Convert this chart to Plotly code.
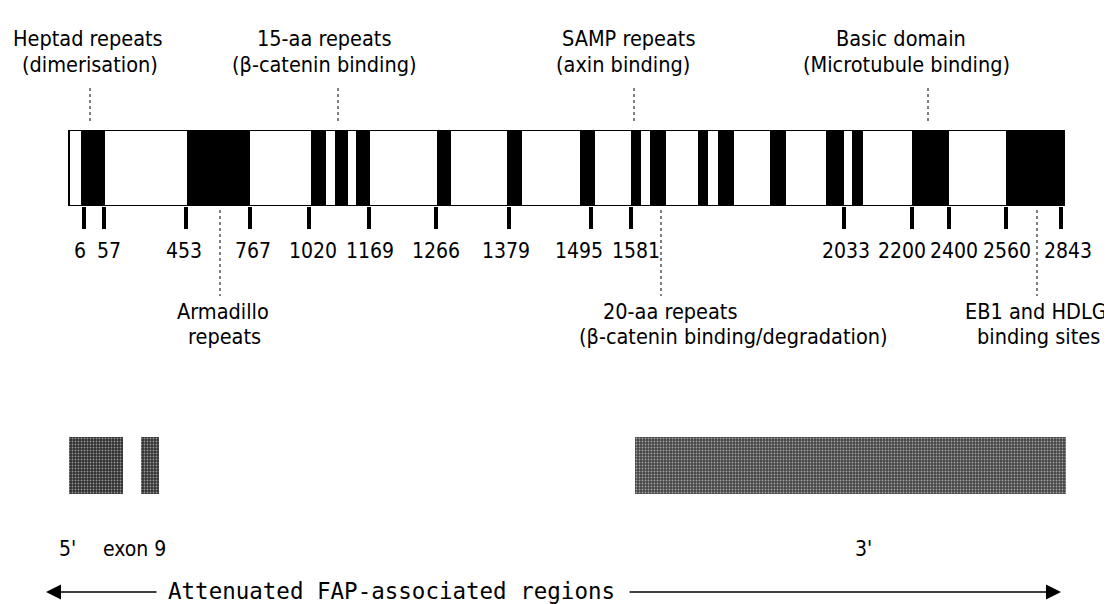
import plotly.graph_objects as go

# ---------------- data (schematic x units) ----------------
tick_pos = [76, 96, 178, 242, 301, 361, 428, 501, 583, 623, 836, 904, 941, 998, 1053]
tick_labels = ["6", "57", "453", "767", "1020", "1169", "1266", "1379", "1495", "1581",
               "2033", "2200", "2400", "2560", "2843"]
tick_label_pos = [72, 101, 176, 245, 305, 362, 428, 498, 571, 628, 838, 894, 946, 999, 1060]

protein_start = [61]
protein_end = [1056]

block_start = [73, 179, 303, 327, 348, 429, 499, 572, 623, 642, 690, 710, 762, 818, 844, 904, 998]
block_end = [97, 242, 318, 340, 362, 443, 514, 587, 633, 658, 700, 726, 778, 836, 855, 941, 1056]

upper_feature_x = [82, 330, 626, 920]
upper_line1 = ["Heptad repeats", "15-aa repeats", "SAMP repeats", "Basic domain"]
upper_line2 = ["(dimerisation)", "(\u03b2-catenin binding)", "(axin binding)", "(Microtubule binding)"]
upper_line1_x = [80, 316, 620, 893]
upper_line2_x = [82, 316, 615, 898]

lower_feature_x = [212, 653, 1029]
lower_line1 = ["Armadillo", "20-aa repeats", "EB1 and HDLG"]
lower_line2 = ["repeats", "(\u03b2-catenin binding/degradation)", "binding sites"]
lower_line1_x = [215, 662, 1028]
lower_line2_x = [216, 725, 1030]

afap_start = [61, 133, 627]
afap_end = [115, 151, 1058]
afap_labels = ["5'", "exon 9", "3'"]
afap_label_x = [59, 126, 855]

W, H = 1112, 604
FONT = "DejaVu Sans Condensed, DejaVu Sans, sans-serif"


def py(y):
    return 1 - y / H


fig = go.Figure()

# protein frame
fig.add_trace(go.Bar(
    orientation="h", y=[0], base=protein_start,
    x=[e - s for s, e in zip(protein_start, protein_end)],
    width=1, marker=dict(color="white", line=dict(color="black", width=2)),
    xaxis="x", yaxis="y", hoverinfo="skip", showlegend=False))

# black domain blocks
fig.add_trace(go.Bar(
    orientation="h", y=[0] * len(block_start), base=block_start,
    x=[e - s for s, e in zip(block_start, block_end)],
    width=1, marker=dict(color="black", line=dict(width=0)),
    xaxis="x", yaxis="y", hoverinfo="skip", showlegend=False))

# invisible carrier for the tick-label axis
fig.add_trace(go.Scatter(
    x=tick_label_pos, y=[0] * len(tick_label_pos), mode="markers",
    marker=dict(opacity=0), xaxis="x3", yaxis="y", hoverinfo="skip", showlegend=False))

# AFAP regions (grey textured)
fig.add_trace(go.Bar(
    orientation="h", y=[0] * len(afap_start), base=afap_start,
    x=[e - s for s, e in zip(afap_start, afap_end)],
    width=1,
    marker=dict(color=["#2e2e2e", "#333333", "#444444"], line=dict(width=0),
                pattern=dict(shape=".", fgcolor="#9a9a9a", size=3, solidity=0.3)),
    xaxis="x2", yaxis="y2", hoverinfo="skip", showlegend=False))

shapes = []
for xv in upper_feature_x:
    shapes.append(dict(type="line", xref="x", yref="paper", x0=xv, x1=xv,
                       y0=py(80), y1=py(116), line=dict(color="black", width=1, dash="dot")))
for xv in lower_feature_x:
    shapes.append(dict(type="line", xref="x", yref="paper", x0=xv, x1=xv,
                       y0=py(202), y1=py(288), line=dict(color="black", width=1, dash="dot")))

annotations = []
f_lab = dict(family=FONT, size=21.5, color="black")
for t, xv in zip(upper_line1, upper_line1_x):
    annotations.append(dict(text=t, x=xv, y=py(31), xref="x", yref="paper",
                            showarrow=False, font=f_lab, xanchor="center", yanchor="middle"))
for t, xv in zip(upper_line2, upper_line2_x):
    annotations.append(dict(text=t, x=xv, y=py(57), xref="x", yref="paper",
                            showarrow=False, font=f_lab, xanchor="center", yanchor="middle"))
for t, xv in zip(lower_line1, lower_line1_x):
    annotations.append(dict(text=t, x=xv, y=py(303), xref="x", yref="paper",
                            showarrow=False, font=f_lab, xanchor="center", yanchor="middle"))
for t, xv in zip(lower_line2, lower_line2_x):
    annotations.append(dict(text=t, x=xv, y=py(328), xref="x", yref="paper",
                            showarrow=False, font=f_lab, xanchor="center", yanchor="middle"))
for t, xv in zip(afap_labels, afap_label_x):
    annotations.append(dict(text=t, x=xv, y=py(541), xref="x", yref="paper",
                            showarrow=False, font=dict(family=FONT, size=21, color="black"),
                            xanchor="center", yanchor="middle"))

# bottom caption with arrows
annotations.append(dict(text="Attenuated FAP-associated regions", x=383, y=py(583),
                        xref="x", yref="paper", showarrow=False,
                        font=dict(family="DejaVu Sans Mono, monospace", size=22.5, color="black"),
                        xanchor="center", yanchor="middle"))
annotations.append(dict(text="", x=38, y=py(584), xref="x", yref="paper", showarrow=True,
                        ax=112, ay=0, axref="pixel", ayref="pixel",
                        arrowhead=2, arrowsize=2, arrowwidth=1.5, arrowcolor="black"))
annotations.append(dict(text="", x=1053, y=py(584), xref="x", yref="paper", showarrow=True,
                        ax=-433, ay=0, axref="pixel", ayref="pixel",
                        arrowhead=2, arrowsize=2, arrowwidth=1.5, arrowcolor="black"))

fig.update_layout(
    width=W, height=H,
    margin=dict(l=0, r=0, t=0, b=0),
    paper_bgcolor="white", plot_bgcolor="rgba(0,0,0,0)",
    barmode="overlay", bargap=0,
    showlegend=False,
    xaxis=dict(range=[0, W], domain=[0, 1], anchor="y",
               showgrid=False, zeroline=False, showline=False,
               ticks="outside", ticklen=22, tickwidth=4, tickcolor="black",
               tickmode="array", tickvals=tick_pos, showticklabels=False,
               fixedrange=True),
    xaxis3=dict(range=[0, W], domain=[0, 1], anchor="y", overlaying="x", side="bottom",
                showgrid=False, zeroline=False, showline=False,
                ticks="outside", ticklen=22, tickwidth=1, tickcolor="rgba(0,0,0,0)",
                tickmode="array", tickvals=tick_label_pos, ticktext=tick_labels, tickangle=0,
                tickfont=dict(family=FONT, size=21, color="black"),
                ticklabelstandoff=4, fixedrange=True),
    yaxis=dict(domain=[py(198), py(122)], range=[-0.5, 0.5], visible=False, fixedrange=True),
    xaxis2=dict(range=[0, W], anchor="y2", visible=False, domain=[0, 1]),
    yaxis2=dict(domain=[py(486), py(429)], range=[-0.5, 0.5], visible=False, fixedrange=True),
    shapes=shapes,
    annotations=annotations,
)

fig.write_html("out.html")
